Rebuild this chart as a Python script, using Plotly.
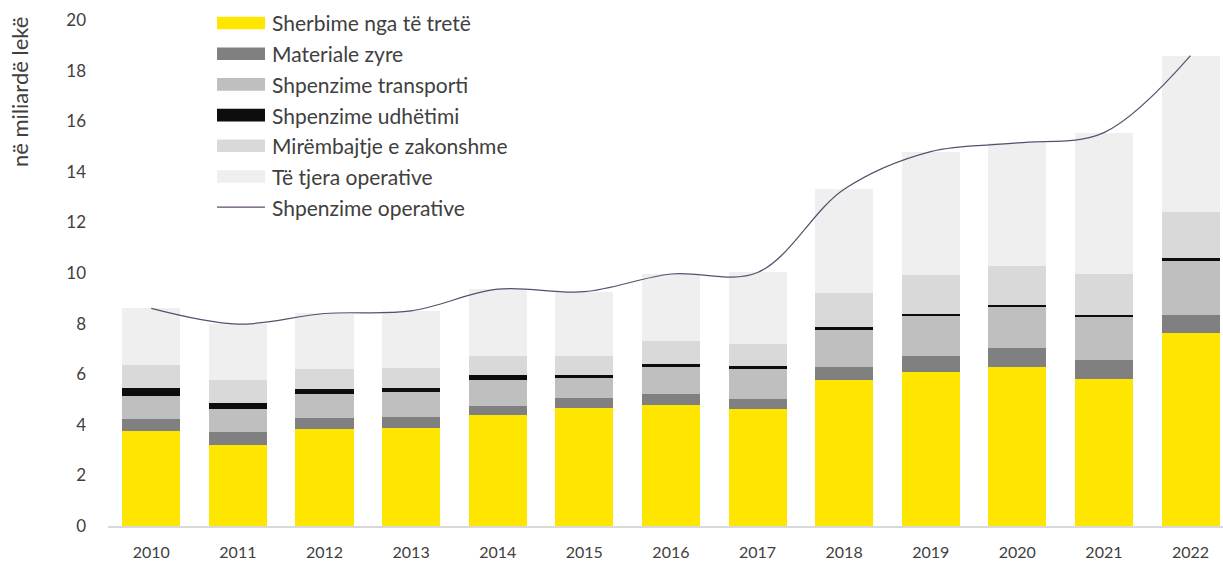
import plotly.graph_objects as go

# Operating expenses by category, billion lekë
years = ["2010", "2011", "2012", "2013", "2014", "2015", "2016",
         "2017", "2018", "2019", "2020", "2021", "2022"]

sherbime_te_treta = [3.75, 3.22, 3.83, 3.88, 4.37, 4.66, 4.80, 4.63, 5.78, 6.09, 6.29, 5.80, 7.63]
materiale_zyre = [0.47, 0.49, 0.44, 0.42, 0.36, 0.38, 0.41, 0.39, 0.50, 0.62, 0.75, 0.77, 0.70]
transporti = [0.90, 0.92, 0.95, 0.99, 1.06, 0.80, 1.09, 1.17, 1.45, 1.59, 1.62, 1.70, 2.15]
udhetimi = [0.34, 0.22, 0.18, 0.16, 0.16, 0.11, 0.11, 0.13, 0.13, 0.09, 0.07, 0.08, 0.12]
mirembajtje = [0.90, 0.94, 0.80, 0.79, 0.76, 0.75, 0.90, 0.87, 1.36, 1.53, 1.54, 1.61, 1.80]
te_tjera = [2.24, 2.19, 2.20, 2.26, 2.65, 2.56, 2.65, 2.83, 4.09, 4.88, 4.87, 5.59, 6.19]
shpenzime_operative = [8.60, 7.98, 8.40, 8.50, 9.36, 9.26, 9.96, 10.02, 13.31, 14.80, 15.14, 15.55, 18.59]

y_ticks = [0, 2, 4, 6, 8, 10, 12, 14, 16, 18, 20]

series = [
    ("Sherbime nga të tretë", sherbime_te_treta, "#FFE600"),
    ("Materiale zyre", materiale_zyre, "#808080"),
    ("Shpenzime transporti", transporti, "#BFBFBF"),
    ("Shpenzime udhëtimi", udhetimi, "#0D0D0D"),
    ("Mirëmbajtje e zakonshme", mirembajtje, "#D9D9D9"),
    ("Të tjera operative", te_tjera, "#EFEFEF"),
]
line_name = "Shpenzime operative"
line_color = "#5E4B6E"

FONT = "Lato"
TEXT = "#404040"

# plot area geometry in pixels (used for the hand-built legend)
L, T, PW, PH = 108, 20, 1115, 506


def px_x(x):
    return (x - L) / PW


def px_y(y):
    return 1 - (y - T) / PH


fig = go.Figure()
for name, vals, color in series:
    fig.add_trace(go.Bar(
        x=years, y=vals, name=name,
        marker=dict(color=color, line=dict(width=0)),
        showlegend=False,
    ))

fig.add_trace(go.Scatter(
    x=years, y=shpenzime_operative, name=line_name, mode="lines",
    line=dict(color=line_color, width=1.2, shape="spline", smoothing=1.0),
    showlegend=False,
))

# Hand-built legend: wide swatches with labels
row0, step = 23, 30.7
for i, (name, _, color) in enumerate(series):
    yc = row0 + i * step
    fig.add_shape(type="rect", xref="paper", yref="paper",
                  x0=px_x(217), x1=px_x(265),
                  y0=px_y(yc - 6.3), y1=px_y(yc + 6.3),
                  fillcolor=color, line=dict(width=0), layer="above")
    fig.add_annotation(text=name, xref="paper", yref="paper",
                       x=px_x(270), y=px_y(yc),
                       xanchor="left", yanchor="middle", showarrow=False,
                       font=dict(family=FONT, size=21, color=TEXT))
yc = row0 + len(series) * step
fig.add_shape(type="line", xref="paper", yref="paper",
              x0=px_x(217), x1=px_x(265), y0=px_y(yc), y1=px_y(yc),
              line=dict(color=line_color, width=1.2), layer="above")
fig.add_annotation(text=line_name, xref="paper", yref="paper",
                   x=px_x(270), y=px_y(yc),
                   xanchor="left", yanchor="middle", showarrow=False,
                   font=dict(family=FONT, size=21, color=TEXT))

# Vertical unit label at the top left
fig.add_annotation(text="në miliardë lekë", xref="paper", yref="paper",
                   x=px_x(19), y=px_y(92),
                   xanchor="center", yanchor="middle", textangle=-90,
                   showarrow=False,
                   font=dict(family=FONT, size=22, color=TEXT))

fig.update_layout(
    barmode="stack",
    bargap=0.33,
    width=1223, height=563,
    margin=dict(l=L, r=1223 - L - PW, t=T, b=563 - T - PH, pad=0),
    paper_bgcolor="white", plot_bgcolor="white",
    font=dict(family=FONT, color=TEXT),
    xaxis=dict(
        type="category", range=[-0.5, 12.375],
        showgrid=False, zeroline=False,
        showline=True, linecolor="#D9D9D9", linewidth=2,
        ticks="", ticklabelstandoff=11,
        tickfont=dict(family=FONT, size=16, color=TEXT),
    ),
    yaxis=dict(
        range=[0, 20], tickvals=y_ticks,
        showgrid=False, zeroline=False, showline=False,
        ticks="", ticklabelstandoff=21,
        tickfont=dict(family=FONT, size=17, color=TEXT),
    ),
)

fig.write_html("out.html")
